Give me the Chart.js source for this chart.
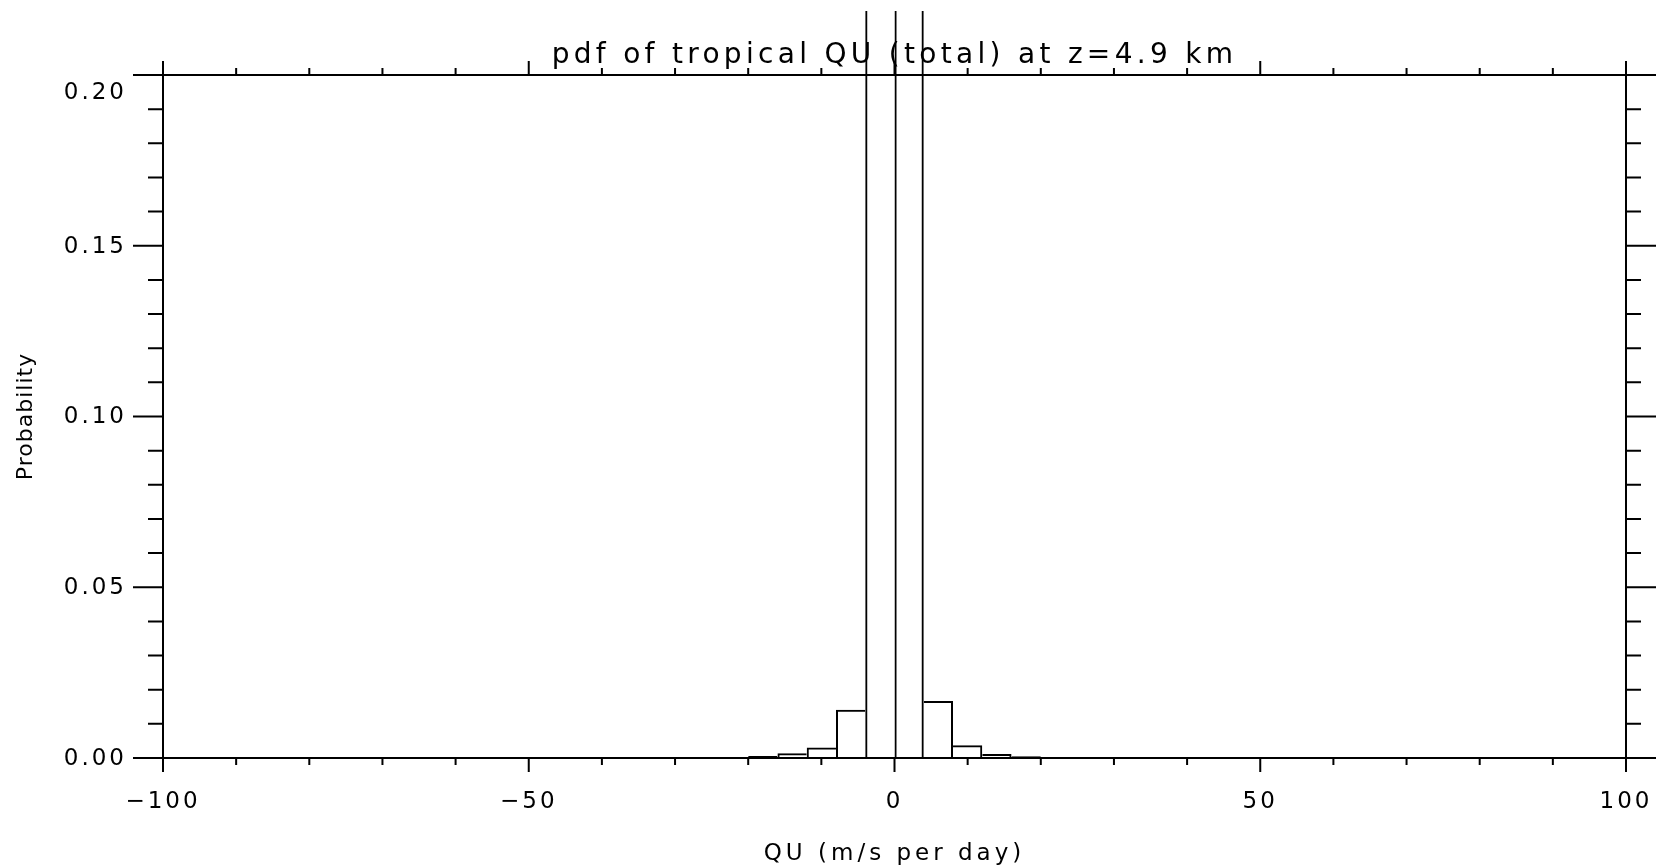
<!DOCTYPE html>
<html>
<head>
<meta charset="utf-8">
<script src="https://cdn.jsdelivr.net/npm/chart.js@4.4.1/dist/chart.umd.min.js"></script>
<style>
  html, body { margin: 0; padding: 0; background: #ffffff; }
  #wrap { width: 1664px; height: 866px; }
</style>
</head>
<body>
<div id="wrap"><canvas id="c" width="1664" height="866"></canvas></div>
<script>
// ---- data ----
const binCenters  = [-18, -14, -10, -6, -2, 2, 6, 10, 14, 18];          // QU bin centres (bins 4 wide)
const probability = [0.0006, 0.0014, 0.0031, 0.0141, 0.47, 0.49, 0.0167, 0.0037, 0.0012, 0.0005];

// ---- ticks / text ----
const xMajorTicks = [-100, -50, 0, 50, 100];
const xTickMarks  = [-100, -90, -80, -70, -60, -50, -40, -30, -20, -10, 0, 10, 20, 30, 40, 50, 60, 70, 80, 90, 100];
const yMajorTicks = [0, 0.05, 0.10, 0.15, 0.20];
const yTickMarks  = [0, 0.01, 0.02, 0.03, 0.04, 0.05, 0.06, 0.07, 0.08, 0.09, 0.10,
                     0.11, 0.12, 0.13, 0.14, 0.15, 0.16, 0.17, 0.18, 0.19, 0.20];
const titleText  = 'pdf of tropical QU (total) at z=4.9 km';
const xAxisTitle = 'QU (m/s per day)';
const yAxisTitle = 'Probability';

Chart.defaults.font.family = "'DejaVu Sans', sans-serif";
Chart.defaults.color = '#000000';

const isMajor = (list, v) => list.some(m => Math.abs(m - v) < 1e-9);
const textSpacing = { title: '4.3px', x: { labels: '3px', title: '4px' }, y: { labels: '3px', title: '1px' } };

const frameTicks = {
  id: 'frameTicks',
  beforeUpdate(chart) { chart.ctx.letterSpacing = textSpacing.title; },
  afterLayout(chart) {
    ['x', 'y'].forEach(id => {
      const s = chart.scales[id];
      if (!s || s.__spaced) return;
      s.__spaced = true;
      const origLabels = s.drawLabels, origTitle = s.drawTitle;
      s.drawLabels = function (ca) {
        const c = this.ctx; c.save(); c.letterSpacing = textSpacing[id].labels;
        origLabels.call(this, ca); c.restore();
      };
      s.drawTitle = function (ca) {
        const c = this.ctx; c.save(); c.letterSpacing = textSpacing[id].title;
        origTitle.call(this, ca); c.restore();
      };
    });
  },
  beforeDraw(chart) { chart.ctx.letterSpacing = textSpacing.title; },
  afterDraw(chart) {
    const { ctx, chartArea: { left, right, top, bottom }, scales: { x, y } } = chart;
    ctx.save();
    ctx.strokeStyle = '#000000';
    ctx.lineWidth = 2;
    ctx.beginPath();
    ctx.rect(left, top, right - left, bottom - top);
    xTickMarks.forEach(v => {
      const px = x.getPixelForValue(v);
      const len = isMajor(xMajorTicks, v) ? 14 : 7;
      ctx.moveTo(px, bottom); ctx.lineTo(px, bottom + len);
      ctx.moveTo(px, top);    ctx.lineTo(px, top - len);
    });
    yTickMarks.forEach(v => {
      const py = y.getPixelForValue(v);
      const len = isMajor(yMajorTicks, v) ? 30 : 15;
      ctx.moveTo(left, py);  ctx.lineTo(left - len, py);
      ctx.moveTo(right, py); ctx.lineTo(right + len, py);
    });
    ctx.stroke();
    ctx.restore();
  }
};

// each shared bin edge is outlined once, by the taller of the two bins
const edgeWidths = ctx => {
  const i = ctx.dataIndex;
  if (i === undefined) return 2;
  const v = probability[i];
  const prev = i > 0 ? probability[i - 1] : 0;
  const next = i < probability.length - 1 ? probability[i + 1] : 0;
  return { top: 2, left: prev <= v ? 2 : 0, right: next < v ? 2 : 0, bottom: 0 };
};

new Chart(document.getElementById('c'), {
  type: 'bar',
  data: {
    datasets: [{
      data: binCenters.map((c, i) => ({ x: c, y: probability[i] })),
      backgroundColor: 'rgba(0,0,0,0)',
      borderColor: '#000000',
      borderWidth: edgeWidths,
      borderSkipped: 'start',
      barPercentage: 1,
      categoryPercentage: 1,
      inflateAmount: 0,
      clip: { left: 10, top: 64, right: 10, bottom: 10 }
    }]
  },
  options: {
    responsive: false,
    animation: false,
    events: [],
    layout: { padding: { left: 0, right: 38, top: 0, bottom: 0 } },
    plugins: {
      legend: { display: false },
      tooltip: { enabled: false },
      title: {
        display: true,
        text: titleText,
        fullSize: false,
        color: '#000000',
        font: { size: 28, weight: 'normal' },
        padding: { top: 39, bottom: 2.4 }
      }
    },
    scales: {
      x: {
        type: 'linear',
        min: -100, max: 100,
        offset: false,
        afterBuildTicks: s => { s.ticks = xMajorTicks.map(v => ({ value: v })); },
        afterFit: s => { s.height = 108; s.paddingLeft = 0; s.paddingRight = 0; },
        grid: { display: false, drawTicks: false },
        border: { display: false },
        ticks: {
          padding: 30,
          autoSkip: false,
          maxRotation: 0,
          color: '#000000',
          font: { size: 23 },
          callback: v => (v < 0 ? '\u2212' + Math.abs(v) : String(v))
        },
        title: {
          display: true,
          text: xAxisTitle,
          color: '#000000',
          font: { size: 23, lineHeight: 1.0 },
          padding: { top: 0, bottom: 0 }
        }
      },
      y: {
        type: 'linear',
        min: 0, max: 0.2,
        afterBuildTicks: s => { s.ticks = yMajorTicks.map(v => ({ value: v })); },
        afterFit: s => { s.width = 163; s.paddingTop = 0; s.paddingBottom = 0; },
        grid: { display: false, drawTicks: false },
        border: { display: false },
        ticks: {
          padding: 36,
          labelOffset: 1,
          autoSkip: false,
          color: '#000000',
          font: { size: 23, lineHeight: '17px' },
          callback: v => {
            const t = v.toFixed(2);
            if (Math.abs(v - 0.2) < 1e-9) return ['', '', t];
            return t;
          }
        },
        title: {
          display: true,
          text: yAxisTitle,
          color: '#000000',
          font: { size: 22 },
          padding: { top: 13, bottom: 0 }
        }
      }
    }
  },
  plugins: [frameTicks]
});
</script>
</body>
</html>
